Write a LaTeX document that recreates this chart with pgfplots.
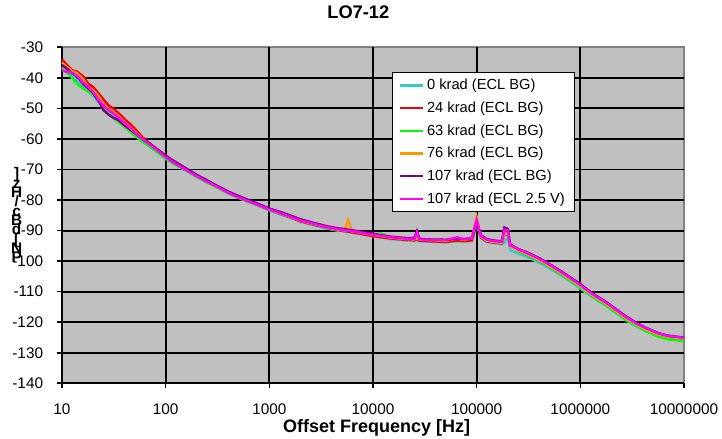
\documentclass[border=0pt]{standalone}
\usepackage{fontspec}
\setmainfont{Liberation Sans}
\usepackage{pgfplots}
\usepackage{pgfplotstable}
\pgfplotsset{compat=1.18}

\definecolor{plotgray}{HTML}{C0C0C0}
\definecolor{bordergray}{HTML}{808080}
\definecolor{xlcyan}{HTML}{33CCCC}
\definecolor{xlred}{HTML}{FF0000}
\definecolor{xlgreen}{HTML}{00FF00}
\definecolor{xlorange}{HTML}{FF9900}
\definecolor{xlpurple}{HTML}{800080}
\definecolor{xlpink}{HTML}{FF00FF}

% phase noise, one column per dose
\pgfplotstableread{
f       cyan    red     green   orange  purple  pink
10      -36.5   -34.0   -37.0   -35.0   -35.8   -37.5
11      -37.5   -35.5   -38.0   -36.3   -36.8   -38.0
12.5    -39.0   -37.5   -40.0   -37.8   -38.5   -38.3
14      -41.0   -38.0   -42.0   -38.5   -39.5   -39.5
16      -43.0   -39.5   -43.5   -40.5   -42.0   -41.5
18      -44.5   -42.0   -44.5   -43.0   -43.5   -43.0
20      -46.0   -43.0   -45.5   -44.0   -45.0   -44.8
23      -48.5   -45.5   -47.5   -46.5   -48.0   -47.5
25      -49.0   -47.0   -49.5   -48.5   -50.5   -49.0
28      -50.5   -49.0   -51.5   -50.0   -52.0   -50.5
31      -52.0   -50.0   -53.0   -51.0   -53.0   -51.5
35      -53.5   -51.5   -54.5   -52.5   -53.8   -53.0
40      -55.0   -53.5   -56.0   -54.5   -55.5   -54.8
45      -56.5   -55.0   -57.5   -56.0   -56.8   -56.3
50      -58.0   -56.5   -58.8   -57.5   -58.0   -57.8
60      -60.5   -59.5   -61.0   -60.0   -60.0   -60.2
70      -62.0   -61.5   -62.5   -61.8   -61.5   -61.8
80      -63.5   -63.0   -64.0   -63.2   -63.0   -63.3
100     -66.0   -65.5   -66.5   -65.8   -65.5   -66.0
120     -67.8   -67.5   -68.2   -67.6   -67.2   -67.8
150     -69.8   -69.5   -70.0   -69.6   -69.2   -69.8
200     -72.3   -72.0   -72.5   -72.0   -71.8   -72.2
250     -74.0   -73.8   -74.3   -73.8   -73.5   -74.0
300     -75.5   -75.2   -75.6   -75.3   -75.0   -75.3
400     -77.7   -77.5   -77.8   -77.5   -77.2   -77.6
500     -79.2   -79.0   -79.2   -79.0   -78.6   -79.1
650     -80.8   -80.6   -80.8   -80.5   -80.2   -80.6
800     -82.0   -81.8   -81.9   -81.7   -81.4   -81.8
1000    -83.4   -83.2   -83.2   -83.0   -82.8   -83.1
1300    -84.8   -84.6   -84.5   -84.4   -84.0   -84.4
1700    -86.2   -86.0   -85.8   -85.8   -85.4   -85.8
2000    -87.2   -87.0   -86.6   -86.8   -86.3   -86.7
2500    -88.0   -87.8   -87.6   -87.6   -87.2   -87.5
3500    -89.3   -89.0   -88.8   -88.8   -88.5   -88.8
4500    -90.0   -89.8   -89.5   -89.6   -89.2   -89.5
5300    -90.3   -90.2   -89.9   -89.9   -89.5   -89.9
5750    -90.5   -90.3   -90.0   -86.6   -89.7   -90.0
6300    -90.7   -90.6   -90.2   -90.2   -89.9   -90.2
8000    -91.3   -91.2   -90.8   -90.8   -90.5   -90.8
10000   -91.9   -91.8   -91.2   -91.4   -91.0   -91.3
12000   -92.3   -92.2   -91.0   -91.8   -91.5   -91.7
15000   -92.8   -92.6   -92.2   -92.3   -92.0   -92.2
20000   -93.2   -93.0   -92.5   -92.7   -92.4   -92.6
25000   -93.4   -93.2   -92.7   -92.9   -92.5   -92.8
26500   -93.4   -92.8   -92.5   -92.5   -90.2   -90.5
28000   -93.5   -93.3   -92.8   -93.0   -92.7   -92.9
35000   -93.7   -93.5   -92.9   -93.1   -92.9   -93.0
50000   -93.9   -93.7   -93.0   -93.3   -93.0   -93.1
65000   -93.5   -93.3   -92.6   -92.6   -92.7   -92.2
75000   -93.6   -93.5   -92.9   -93.0   -92.8   -92.8
90000   -93.4   -93.2   -92.4   -92.6   -92.5   -92.4
100000  -88.0   -87.5   -87.0   -85.5   -87.2   -86.5
110000  -92.5   -92.3   -91.8   -92.0   -91.5   -91.8
125000  -93.8   -93.5   -93.2   -93.3   -92.8   -93.0
150000  -94.2   -94.0   -93.7   -93.8   -93.3   -93.5
175000  -94.5   -94.2   -94.0   -94.0   -93.5   -93.7
185000  -94.0   -91.5   -91.3   -91.3   -89.0   -89.8
200000  -92.0   -91.0   -90.8   -90.8   -89.5   -90.0
210000  -96.5   -95.0   -95.0   -95.0   -94.5   -94.8
250000  -97.5   -96.5   -96.5   -96.5   -96.0   -96.0
300000  -98.5   -97.8   -97.8   -97.5   -97.0   -97.2
400000  -100.5  -99.8   -99.8   -99.6   -99.0   -99.2
530000  -102.8  -102.2  -102.3  -102.0  -101.4  -101.6
700000  -105.3  -104.8  -105.0  -104.6  -104.0  -104.2
1e6     -109.0  -108.3  -108.6  -108.2  -107.5  -107.8
1.3e6   -111.8  -111.2  -111.5  -111.1  -110.5  -110.7
1.74e6  -114.5  -114.0  -114.3  -113.8  -113.2  -113.4
2.2e6   -117.0  -116.5  -116.8  -116.3  -115.7  -115.9
2.7e6   -119.2  -118.6  -119.0  -118.5  -117.9  -118.1
3.4e6   -121.2  -120.6  -121.0  -120.5  -120.0  -120.2
4.2e6   -122.8  -122.3  -122.8  -122.2  -121.7  -121.8
5.6e6   -124.5  -124.0  -124.7  -124.0  -123.5  -123.6
7e6     -125.2  -124.8  -125.6  -124.8  -124.4  -124.5
1e7     -125.8  -125.3  -126.2  -125.3  -125.0  -125.1
}\lodata

\begin{document}
\begin{tikzpicture}
\begin{axis}[
    scale only axis,
    width=466.5pt, height=252pt,
    xmode=log,
    xmin=10, xmax=1e7,
    ymin=-140, ymax=-30,
    xtick={10,100,1000,10000,100000,1000000},
    xticklabels={10,100,1000,10000,100000,1000000},
    extra x ticks={1e7},
    extra x tick labels={10000000},
    extra x tick style={grid=none},
    ytick={-140,-130,...,-40},
    extra y ticks={-30},
    extra y tick style={grid=none},
    xminorticks=false,
    grid=major,
    grid style={black, line width=1.4pt},
    axis background/.style={fill=plotgray, draw=bordergray, line width=1.5pt},
    axis x line*=bottom, axis y line*=left,
    axis line style={black, line width=1.4pt},
    tick align=outside,
    major tick length=3.5pt,
    tick style={black, line width=1.2pt},
    ticklabel style={font=\fontsize{11.5}{13}\selectfont},
    xticklabel style={anchor=base, inner sep=0pt, yshift=-19.8pt},
    yticklabel style={anchor=east, inner sep=0pt, xshift=-10.5pt},
    /pgf/number format/assume math mode=true,
    title={LO7-12},
    title style={font=\bfseries\fontsize{13.7}{15}\selectfont, at={(0.5,1)}, anchor=base,
        inner sep=0pt, yshift=15.5pt, xshift=-11pt},
    xlabel={Offset Frequency [Hz]},
    xlabel style={font=\bfseries\fontsize{13.5}{15}\selectfont, at={(0.5,0)}, anchor=base,
        inner sep=0pt, yshift=-37pt, xshift=2.8pt},
    legend style={at={(0.5305,0.9265)}, anchor=north west, draw=black, line width=0.9pt,
        fill=white, font=\fontsize{11}{13}\selectfont, row sep=3.5pt,
        inner xsep=5pt, inner ysep=3pt},
    legend cell align=left,
    clip=false,
    every axis plot/.append style={line width=1.8pt},
]
\coordinate (ll) at (rel axis cs:0,0);
\addplot[color=xlcyan]   table[x=f, y=cyan]   {\lodata};
\addlegendentry{0 krad (ECL BG)}
\addplot[color=xlred]    table[x=f, y=red]    {\lodata};
\addlegendentry{24 krad (ECL BG)}
\addplot[color=xlgreen]  table[x=f, y=green]  {\lodata};
\addlegendentry{63 krad (ECL BG)}
\addplot[color=xlorange] table[x=f, y=orange] {\lodata};
\addlegendentry{76 krad (ECL BG)}
\addplot[color=xlpurple] table[x=f, y=purple] {\lodata};
\addlegendentry{107 krad (ECL BG)}
\addplot[color=xlpink]   table[x=f, y=pink]   {\lodata};
\addlegendentry{107 krad (ECL 2.5 V)}

% y label, letters stacked as in the original
\node[font={\bfseries\fontsize{11.5}{7}\selectfont\lineskiplimit=-20pt\lineskip=0pt},
      align=center, inner sep=0pt] at (rel axis cs:0,0.5) [xshift=-34pt]
      {]\\z\\H\\/\\c\\B\\d\\{[}\\N\\P};
\end{axis}
\pgfresetboundingbox
\useasboundingbox ([shift={(-46.5pt,-41.775pt)}]ll) rectangle ++(541.5pt,329.25pt);
\end{tikzpicture}
\end{document}
